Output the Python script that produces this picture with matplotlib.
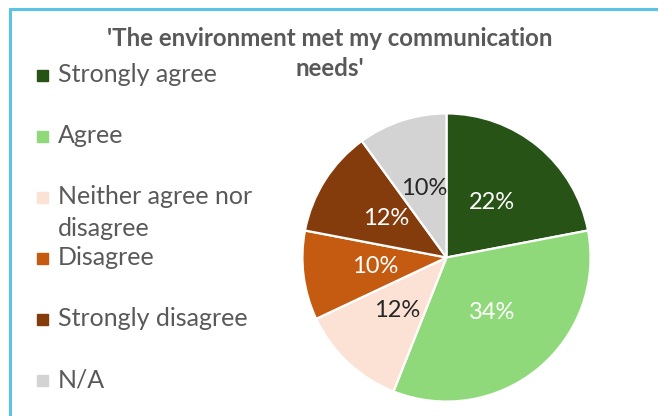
import matplotlib.pyplot as plt
from matplotlib.patches import Rectangle

# survey responses
categories = ['Strongly agree', 'Agree', 'Neither agree nor\ndisagree',
              'Disagree', 'Strongly disagree', 'N/A']
shares = [22, 34, 12, 10, 12, 10]
colors = ['#285317', '#8FD97A', '#FBE2D5', '#C55A11', '#843C0C', '#D3D3D3']
pct_colors = ['white', 'white', '#262626', 'white', 'white', '#262626']
title_lines = ["'The environment met my communication", "needs'"]

W, H = 658, 416
fig = plt.figure(figsize=(W / 100, H / 100), dpi=100)
fig.patch.set_facecolor('white')

# frame round the chart area (only top/left edges fall inside the image)
frame_ax = fig.add_axes([0, 0, 1, 1])
frame_ax.set_xlim(0, W)
frame_ax.set_ylim(H, 0)
frame_ax.axis('off')
frame_ax.plot([10, 10, W + 5], [H + 5, 9, 9], color='#5BC4E6', lw=2.2,
              solid_joinstyle='miter', clip_on=False)

# title, one text per line
for k, line in enumerate(title_lines):
    frame_ax.text(330, 38 + k * 30, line, ha='center', va='center',
                  fontsize=17.3, fontweight='bold', color='#595959', family='Lato')

# pie
ax = fig.add_axes([301 / W, 1 - 403 / H, 291 / W, 291 / H])
wedges, _, pcts = ax.pie(shares, colors=colors, startangle=90, counterclock=False,
                         autopct='%d%%', pctdistance=0.5,
                         wedgeprops=dict(edgecolor='white', linewidth=1.6))
for t, c in zip(pcts, pct_colors):
    t.set_color(c)
    t.set_fontsize(17)
    t.set_family('Lato')
ax.set_xlim(-1.01, 1.01)
ax.set_ylim(-1.01, 1.01)
ax.set_aspect('equal')

# legend drawn by hand so the wrapped entry keeps even spacing
for i, (lab, col) in enumerate(zip(categories, colors)):
    y = 75 + i * 61
    frame_ax.add_patch(Rectangle((37, y - 5.5), 11, 11, color=col))
    frame_ax.text(58, y - 12, lab, ha='left', va='top', fontsize=18,
                  color='#595959', family='Lato', linespacing=1.5)

fig.savefig('out.png', dpi=100)
